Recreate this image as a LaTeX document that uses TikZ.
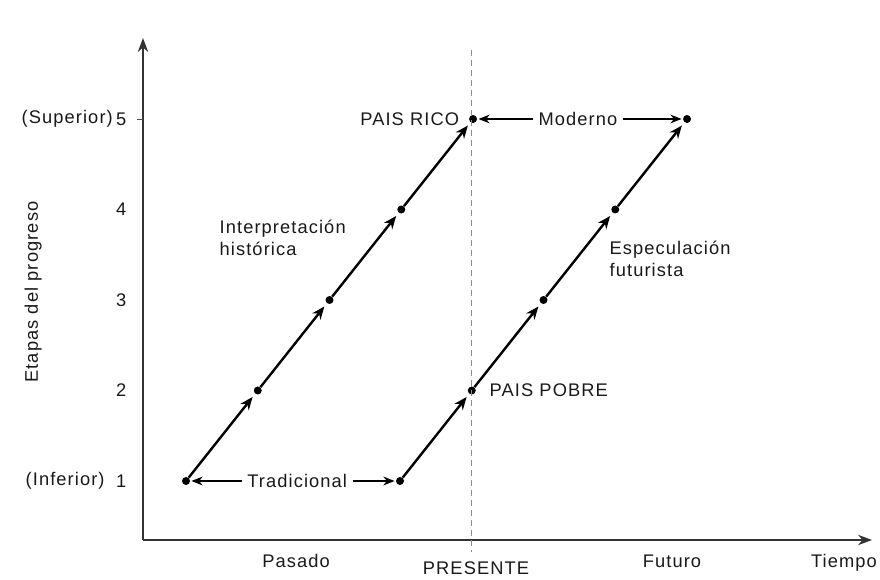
\documentclass[tikz,border=0pt]{standalone}
\usepackage{fontspec}
\setmainfont[LetterSpace=6]{Liberation Sans}
\usetikzlibrary{arrows.meta,positioning}

\tikzset{
	punto/.style={circle, fill=black, inner sep=0pt, minimum size=2mm},
	texto/.style={font=\fontsize{13}{16}\selectfont, color=black!90, inner sep=1pt},
	flecha/.style={line width=0.6mm, -{Stealth[length=3.2mm,width=2.6mm]}, shorten >=1mm},
	flechita/.style={line width=0.3mm, -{Stealth[length=2.8mm,width=2.2mm]}, shorten >=0.3mm, shorten <=1mm},
}

\begin{document}
\begin{tikzpicture}
		%%%%% START %%%%%
		\useasboundingbox (0, 0) rectangle (22, 14.5);
		
		% ejes
		\coordinate (origen) at (3.575, 1);
		\coordinate (ytope) at (3.575, 13.55);
		\coordinate (xfin) at (21.8, 1);
		\draw[line width=0.35mm, color=black!80, -{Stealth[length=3.5mm,width=2.6mm]}] (origen) -- (ytope);
		\draw[line width=0.35mm, color=black!80, -{Stealth[length=3.5mm,width=2.6mm]}] (origen) -- (xfin);
		
		% puntos de las dos trayectorias
		\foreach \k in {1,...,5}{
			\node[punto] (l\k) at ({4.65+(\k-1)*1.794}, {2.475+(\k-1)*2.2625}) {};
			\node[punto] (r\k) at ({10.0+(\k-1)*1.794}, {2.475+(\k-1)*2.2625}) {};
			\node[texto, anchor=east] (n\k) at (3.2, {2.475+(\k-1)*2.2625}) {\k};
		}
		\foreach \a/\b in {1/2, 2/3, 3/4, 4/5}{
			\draw[flecha] (l\a) -- (l\b);
			\draw[flecha] (r\a) -- (r\b);
		}
		\draw[line width=0.2mm, color=black!70] (origen |- n5) -- ++(-0.15, 0);
		
		% linea del presente
		\coordinate (parriba) at (11.78, 13.25);
		\coordinate (pabajo) at (11.78, 0.7);
		\draw[line width=0.3mm, color=black!45, dash pattern=on 1.5mm off 1mm] (parriba) -- (pabajo);
		
		% etiquetas del eje vertical
		\node[texto, anchor=west] (sup) at (0.5, 11.525) {(Superior)};
		\node[texto, anchor=west] (inf) at (0.6, 2.475) {(Inferior)};
		\node[texto, rotate=90] (etapas) at (0.83, 7.2) {Etapas del progreso};
		
		% etiquetas del eje horizontal
		\node[texto] (pasado) at (7.4, 0.47) {Pasado};
		\node[texto] (presente) at (11.9, 0.3) {PRESENTE};
		\node[texto] (futuro) at (16.8, 0.47) {Futuro};
		\node[texto] (tiempo) at (21.1, 0.43) {Tiempo};
		
		% flechas horizontales
		\node[texto] (trad) at (7.43, 2.475) {Tradicional};
		\draw[flechita] (trad) -- (l1);
		\draw[flechita] (trad) -- (r1);
		
		\node[texto] (moderno) at (14.45, 11.525) {Moderno};
		\draw[flechita] (moderno) -- (l5);
		\draw[flechita] (moderno) -- (r5);
		
		% textos
		\node[texto, left=2mm of l5] (rico) {PAIS RICO};
		\node[texto, right=3mm of r2] (pobre) {PAIS POBRE};
		\node[texto, anchor=west, align=left] (hist) at (5.45, 8.55) {Interpretación\\histórica};
		\node[texto, anchor=west, align=left] (espec) at (15.2, 8.03) {Especulación\\futurista};
		
		%%%%% END %%%%%
	\end{tikzpicture}
\end{document}
